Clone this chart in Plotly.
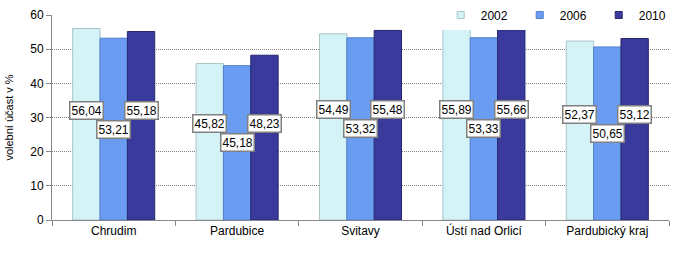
import plotly.graph_objects as go

categories = ["Chrudim", "Pardubice", "Svitavy", "Ústí nad Orlicí", "Pardubický kraj"]
years = ["2002", "2006", "2010"]
v2002 = [56.04, 45.82, 54.49, 55.89, 52.37]
v2006 = [53.21, 45.18, 53.32, 53.33, 50.65]
v2010 = [55.18, 48.23, 55.48, 55.66, 53.12]
y_ticks = [0, 10, 20, 30, 40, 50, 60]

series = [v2002, v2006, v2010]
fills = ["#D3F3F6", "#6A9DF2", "#393A9C"]
lines = ["#A9C4C8", "#4F7FD0", "#26276E"]

W, H = 687, 257
ml, mr, mt, mb = 52, 18, 15, 37
bargap = 0.335
plot_w = W - ml - mr
cat_w = plot_w / len(categories)
bar_w = cat_w * (1 - bargap) / 3
FONT = "Liberation Sans, Arial, sans-serif"

fig = go.Figure()
for name, vals, fc, lc in zip(years, series, fills, lines):
    fig.add_trace(go.Bar(
        x=categories, y=vals, name=name, showlegend=False,
        marker=dict(color=fc, line=dict(color=lc, width=1)),
        hoverinfo="skip",
    ))
# legend entries with small square keys
for name, fc, lc in zip(years, fills, lines):
    fig.add_trace(go.Scatter(
        x=[None], y=[None], mode="markers", name=name,
        marker=dict(symbol="square", size=7, color=fc, line=dict(color=lc, width=1)),
    ))

fmt = lambda v: f"{v:.2f}".replace(".", ",")
annotations = []
for i, cat in enumerate(categories):
    base = v2006[i] / 2
    for j, vals in enumerate(series):
        annotations.append(dict(
            x=cat, y=base, xref="x", yref="y",
            xshift=(j - 1) * bar_w,
            yshift=0 if j == 1 else 19,
            text=fmt(vals[i]), showarrow=False,
            font=dict(family=FONT, size=12, color="#000000"),
            bgcolor="#FFFFFF", bordercolor="#808080", borderwidth=1.5, borderpad=1,
        ))

fig.update_layout(
    width=W, height=H,
    margin=dict(l=ml, r=mr, t=mt, b=mb, autoexpand=False),
    paper_bgcolor="white", plot_bgcolor="white",
    barmode="group", bargap=bargap, bargroupgap=0,
    font=dict(family=FONT, size=12, color="#000000"),
    annotations=annotations,
    legend=dict(
        orientation="h", x=0.63, y=1.0, xanchor="left", yanchor="middle",
        bgcolor="white", font=dict(size=12), itemwidth=30, entrywidth=34,
        traceorder="normal", tracegroupgap=0,
    ),
    xaxis=dict(
        showline=True, linecolor="#888888", linewidth=1,
        ticks="outside", tickson="boundaries", ticklen=5, tickcolor="#888888",
        showgrid=False, tickfont=dict(size=12),
    ),
    yaxis=dict(
        range=[0, 60], tickvals=y_ticks, showline=True, linecolor="#888888", linewidth=1,
        ticks="outside", ticklen=5, tickcolor="#888888",
        showgrid=True, gridcolor="#808080", griddash="1px,1px", gridwidth=1,
        zeroline=False, tickfont=dict(size=12),
        title=dict(text="volební účast v %", font=dict(size=11), standoff=14),
    ),
)

fig.write_html("out.html")
